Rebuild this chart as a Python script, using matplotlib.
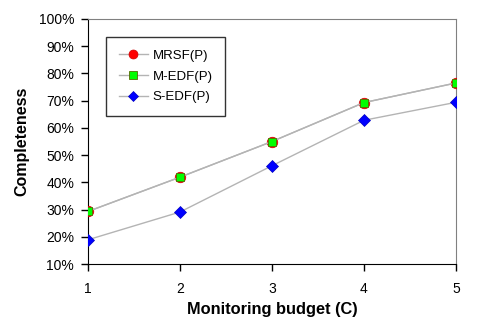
import matplotlib
matplotlib.use("Agg")
import matplotlib.pyplot as plt
from matplotlib.ticker import FuncFormatter

plt.rcParams['font.family'] = ['Liberation Sans', 'DejaVu Sans']

budget = [1, 2, 3, 4, 5]
mrsf = [29.3, 41.9, 55.0, 69.3, 76.5]
medf = [29.3, 41.9, 55.0, 69.3, 76.5]
sedf = [18.9, 29.1, 46.1, 62.8, 69.4]

fig = plt.figure(figsize=(5.01, 3.31), dpi=100)
ax = fig.add_axes([88 / 501, 1 - 264 / 331, 368 / 501, 245 / 331])

line_c = '#b4b4b4'
ax.plot(budget, mrsf, color=line_c, lw=1, marker='o', ms=7.6,
        mfc='#ff0000', mec='#d00000', mew=0.5, label='MRSF(P)', zorder=3)
ax.plot(budget, medf, color=line_c, lw=1, marker='s', ms=6.2,
        mfc='#00ff00', mec='#556b00', mew=0.6, label='M-EDF(P)', zorder=4)
ax.plot(budget, sedf, color=line_c, lw=1, marker='D', ms=6.2,
        mfc='#0000ff', mec='#0000c0', mew=0.5, label='S-EDF(P)', zorder=3)

ax.set_xlim(1, 5)
ax.set_ylim(10, 100)
ax.set_xticks(budget)
ax.set_yticks(range(10, 101, 10))
ax.yaxis.set_major_formatter(FuncFormatter(lambda v, p: '%d%%' % v))
ax.tick_params(direction='out', length=5, width=1, labelsize=10, pad=5)
ax.tick_params(axis='x', pad=8)

for s in ['top', 'right']:
    ax.spines[s].set_color('#808080')
for s in ['left', 'bottom']:
    ax.spines[s].set_color('black')

ax.set_xlabel('Monitoring budget (C)', fontsize=11.8, fontweight='bold', labelpad=4)
ax.set_ylabel('Completeness', fontsize=11.5, fontweight='bold', labelpad=7)

leg = ax.legend(loc='upper left', bbox_to_anchor=(18 / 368, 1 - 18 / 245),
                fontsize=9.5, frameon=True, fancybox=False, edgecolor='black',
                borderpad=0.95, labelspacing=0.65, handlelength=2.2,
                handletextpad=0.4, markerscale=0.85, borderaxespad=0)
leg.get_frame().set_linewidth(1)

fig.savefig('out.png', dpi=100)
